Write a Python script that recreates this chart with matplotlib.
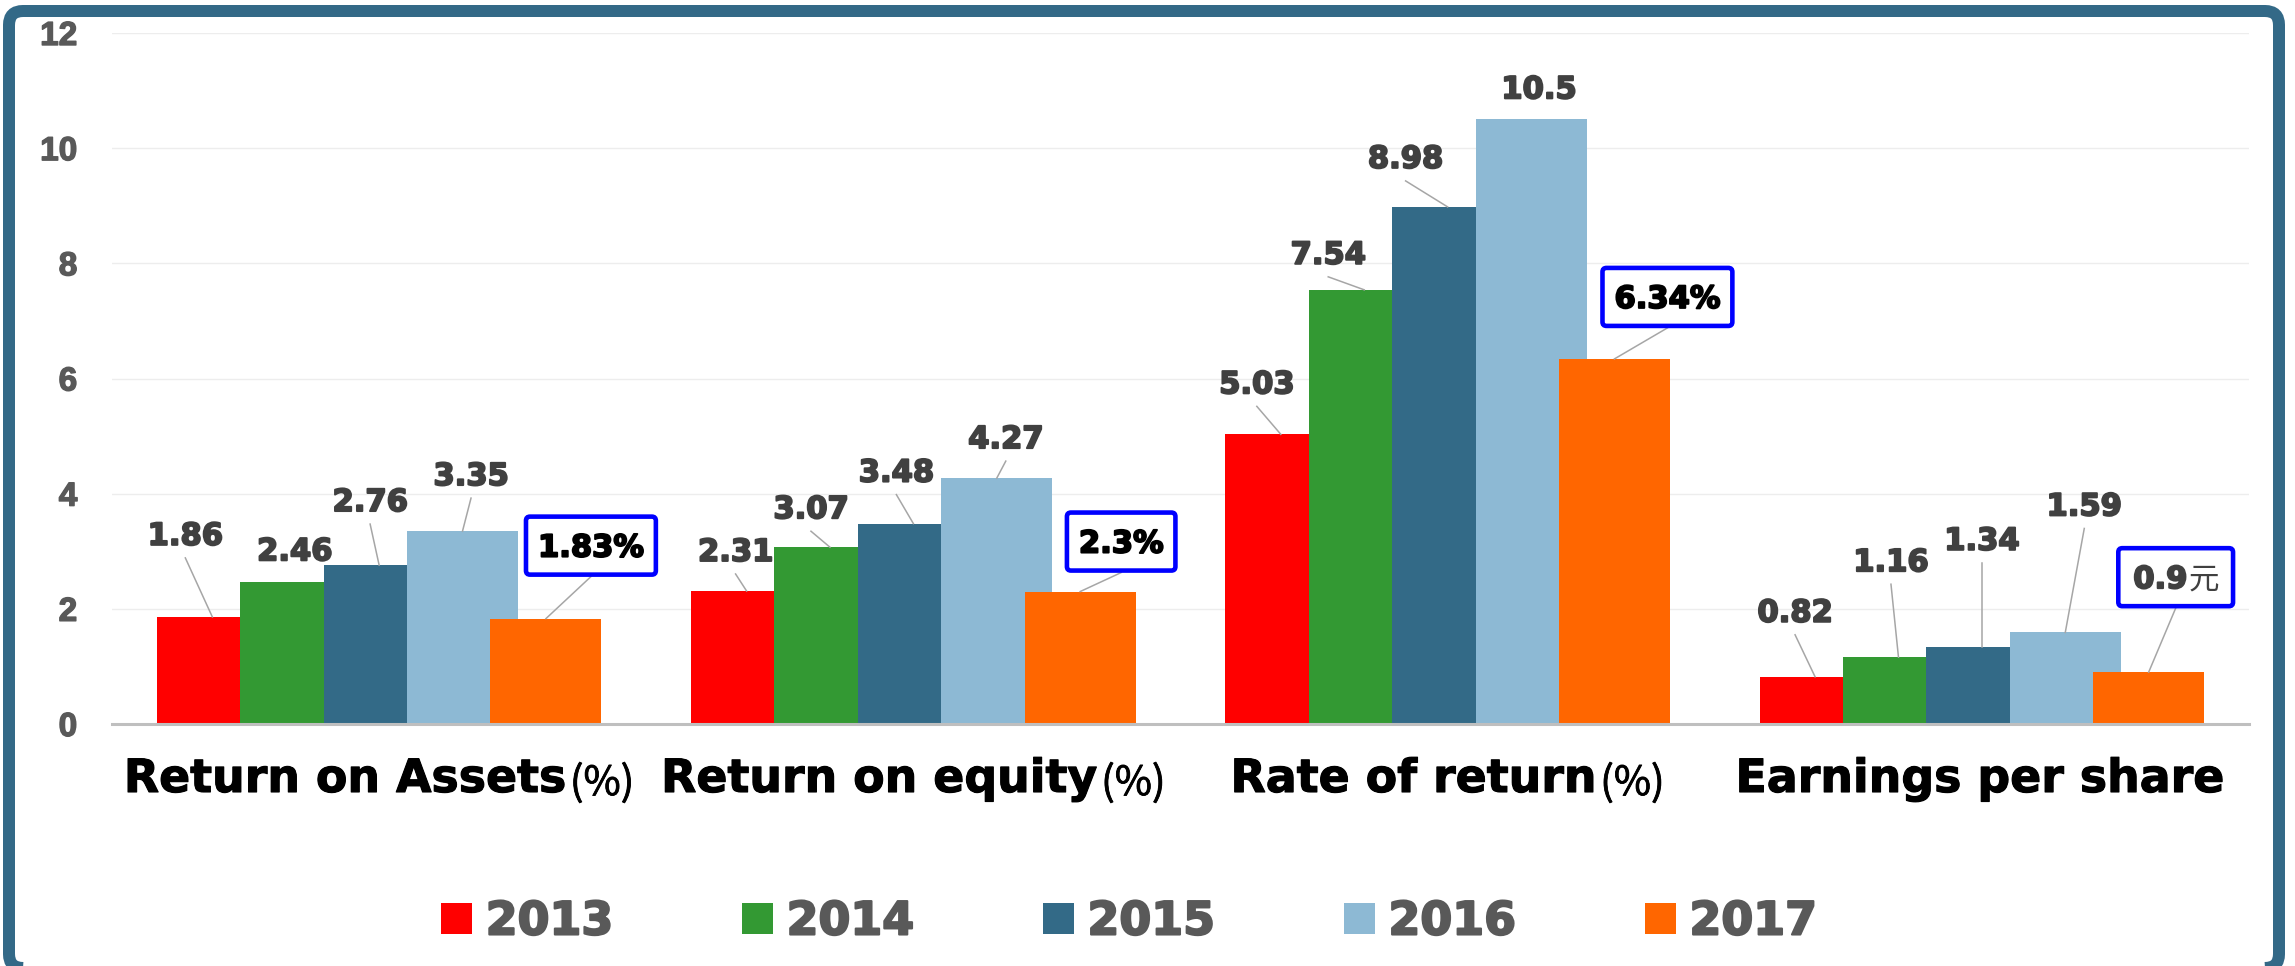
import matplotlib
matplotlib.use('Agg')
import matplotlib.pyplot as plt
import matplotlib.transforms as mtransforms
import matplotlib.patheffects as pe
from matplotlib.patches import FancyBboxPatch, Patch
from matplotlib.lines import Line2D
import numpy as np

plt.rcParams['font.family'] = ['DejaVu Sans', 'Noto Sans CJK SC']

# ---------------- data ----------------
categories = ['Return on Assets', 'Return on equity', 'Rate of return', 'Earnings per share']
category_suffix = ['(%)', '(%)', '(%)', '']
years = ['2013', '2014', '2015', '2016', '2017']
values_2013 = [1.86, 2.31, 5.03, 0.82]
values_2014 = [2.46, 3.07, 7.54, 1.16]
values_2015 = [2.76, 3.48, 8.98, 1.34]
values_2016 = [3.35, 4.27, 10.5, 1.59]
values_2017 = [1.83, 2.3, 6.34, 0.9]
labels_2017 = ['1.83%', '2.3%', '6.34%', '0.9元']
y_ticks = [0, 2, 4, 6, 8, 10, 12]

# ---------------- style / layout ----------------
colors = ['#FF0000', '#339933', '#336A87', '#8DB9D4', '#FF6600']
W, H = 2295, 966
DPI = 100
# label offsets from bar top (pixels, dx right, dy up) for each series / category
label_offsets = [
    [(-27, 83), (-11, 41), (-24, 52), (-20, 66)],
    [(-1, 33), (-19, 40), (-36, 37), (-7.5, 97)],
    [(-9, 65), (-17, 53), (-42, 50), (0, 108)],
    [(8.5, 57), (9, 41), (8, 32), (19, 128)],
    [(45, 73), (41, 50), (53, 62), (27, 95)],
]


def heavy(width, color):
    return [pe.withStroke(linewidth=width, foreground=color)]


series = [values_2013, values_2014, values_2015, values_2016, values_2017]

fig = plt.figure(figsize=(W / DPI, H / DPI), dpi=DPI)
fig.patch.set_facecolor('white')
ax = fig.add_axes([112 / W, 1 - 724 / H, (2249 - 112) / W, (724 - 33) / H])
ax.set_xlim(-0.5, 3.5)
ax.set_ylim(0, 12)

cat_w_px = (2249 - 112) / 4.0
bw = 111 / cat_w_px
step = 83.4 / cat_w_px
x = np.arange(len(categories))
for i, (vals, col) in enumerate(zip(series, colors)):
    ax.bar(x + (i - 2) * step, vals, width=bw, color=col, linewidth=0, zorder=2 + i)

ax.set_axisbelow(True)
ax.yaxis.grid(True, color='#EDEDED', linewidth=1.0)
for s in ['left', 'right', 'top']:
    ax.spines[s].set_visible(False)
ax.spines['bottom'].set_color('#BFBFBF')
ax.spines['bottom'].set_linewidth(2.2)
ax.spines['bottom'].set_zorder(20)
ax.set_xticks([])
ax.set_yticks(y_ticks)
ax.tick_params(axis='y', length=0, pad=25, labelsize=24, labelcolor='#595959')
for lbl in ax.get_yticklabels():
    lbl.set_fontfamily('Liberation Sans')
    lbl.set_fontweight('bold')
    lbl.set_path_effects(heavy(1.0, '#595959'))

ident = mtransforms.IdentityTransform()
renderer = fig.canvas.get_renderer()

# ---------------- category labels ----------------
base_y = H - 792
for k, (name, suf) in enumerate(zip(categories, category_suffix)):
    t_main = fig.text(0, base_y, name, transform=ident, ha='left', va='baseline',
                      family='DejaVu Sans', weight='bold', fontsize=33, color='black',
                      path_effects=heavy(0.8, 'black'))
    w_main = t_main.get_window_extent(renderer).width
    w_suf = 0
    t_suf = None
    if suf:
        t_suf = fig.text(0, base_y - 3, suf, transform=ident, ha='left', va='baseline',
                         family='Noto Sans CJK SC', fontsize=29, color='black',
                         path_effects=heavy(0.6, 'black'))
        w_suf = t_suf.get_window_extent(renderer).width
    cx = ax.transData.transform((k, 0))[0]
    left = cx - (w_main + w_suf + 3) / 2
    t_main.set_x(left)
    if t_suf is not None:
        t_suf.set_x(left + w_main + 3)

# ---------------- data labels ----------------
DIGIT_HALF = 11
for i, vals in enumerate(series):
    for k, v in enumerate(vals):
        X, Y = ax.transData.transform((k + (i - 2) * step, v))
        dx, dy = label_offsets[i][k]
        cx, cy = X + dx, Y + dy
        if i < 4:
            fig.text(cx, cy - DIGIT_HALF, f'{v:g}', transform=ident, ha='center', va='baseline',
                     family='DejaVu Sans', weight='bold', fontsize=22, color='#404040', zorder=6,
                     path_effects=heavy(1.4, '#404040'))
            sy = cy - DIGIT_HALF - 13
        else:
            lab = labels_2017[k]
            num = ''.join(ch for ch in lab if ord(ch) < 128)
            rest = lab[len(num):]
            tcol = 'black' if not rest else '#404040'
            t1 = fig.text(0, cy - DIGIT_HALF, num, transform=ident, ha='left', va='baseline',
                          family='DejaVu Sans', weight='bold', fontsize=22, color=tcol, zorder=7,
                          path_effects=heavy(1.4, tcol))
            w1 = t1.get_window_extent(renderer).width
            w2 = 0
            t2 = None
            if rest:
                t2 = fig.text(0, cy - DIGIT_HALF, rest, transform=ident, ha='left', va='baseline',
                              family='Noto Sans CJK SC', fontsize=22, color='#404040', zorder=7)
                w2 = t2.get_window_extent(renderer).width
            tw = w1 + w2
            left = cx - tw / 2
            t1.set_x(left)
            if t2 is not None:
                t2.set_x(left + w1 + 1)
            padx = 12 if not rest else 15
            bh = 58
            box = FancyBboxPatch((left - padx, cy - bh / 2), tw + 2 * padx, bh,
                                 boxstyle='round,pad=0,rounding_size=4',
                                 transform=ident, facecolor='white', edgecolor='#0000FF',
                                 linewidth=3.3, zorder=6)
            fig.add_artist(box)
            sy = cy - bh / 2 - 2
        if sy - Y > 12:
            fig.add_artist(Line2D([cx, X], [sy, Y], transform=ident, color='#A6A6A6',
                                  linewidth=1.1, zorder=5))

# ---------------- legend ----------------
handles = [Patch(facecolor=c, edgecolor='none') for c in colors]
leg = fig.legend(handles, years, loc='center', bbox_to_anchor=(1129 / W, 1 - 922 / H), ncol=5,
                 frameon=False, prop=dict(family='DejaVu Sans', weight='bold', size=33),
                 labelcolor='#595959', handlelength=0.68, handleheight=0.68, handletextpad=0.3,
                 columnspacing=2.8, borderaxespad=0, borderpad=0)
for t in leg.get_texts():
    t.set_path_effects(heavy(1.5, '#595959'))

# ---------------- border ----------------
border = FancyBboxPatch((9, H - 968), 2270, 957, boxstyle='round,pad=0,rounding_size=14',
                        transform=ident, facecolor='none', edgecolor='#336987',
                        linewidth=12 * 72 / DPI, zorder=30)
fig.add_artist(border)

fig.savefig('out.png', dpi=DPI, facecolor='white')
